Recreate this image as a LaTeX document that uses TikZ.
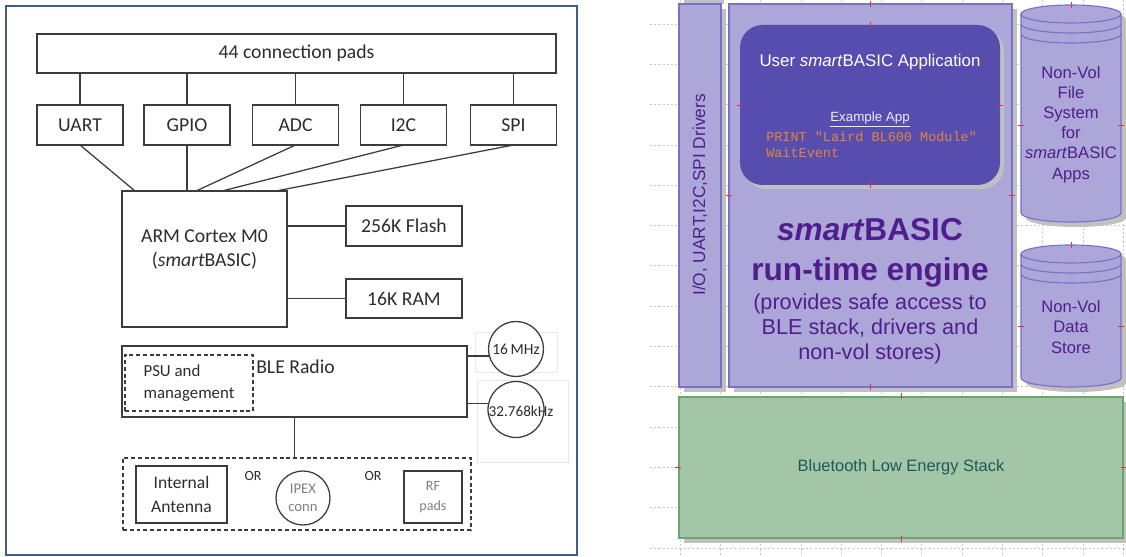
\documentclass[tikz,border=0pt]{standalone}
\usepackage{fontspec}
\setmainfont{Carlito}
\newfontfamily\arial{Liberation Sans}
\newfontfamily\courier{Liberation Mono}
\usepackage{tikz}
\usetikzlibrary{calc,positioning,shadows}

\definecolor{linegray}{RGB}{60,60,60}
\definecolor{textgray}{RGB}{45,45,45}
\definecolor{framblue}{RGB}{62,92,140}
\definecolor{lavfill}{RGB}{172,167,216}
\definecolor{lavline}{RGB}{122,112,202}
\definecolor{appblue}{RGB}{87,77,174}
\definecolor{purpletext}{RGB}{80,30,140}
\definecolor{codeorange}{RGB}{222,135,60}
\definecolor{greenfill}{RGB}{162,198,166}
\definecolor{greenline}{RGB}{105,165,110}
\definecolor{greentext}{RGB}{30,90,90}
\definecolor{shadowgray}{RGB}{192,192,192}
\definecolor{gridgray}{RGB}{200,200,200}
\definecolor{tickred}{RGB}{225,50,50}

\newcommand{\fsz}[2]{\fontsize{#1}{#2}\selectfont}

\begin{document}
\begin{tikzpicture}[x=0.025cm, y=-0.025cm,
    sz/.style 2 args={minimum width=#1*0.025cm, minimum height=#2*0.025cm},
    blk/.style={draw=linegray, line width=0.9pt, inner sep=0pt, outer sep=0pt,
                text=textgray, font=\fsz{14pt}{17pt}, align=center},
    dbox/.style={blk, dash pattern=on 2.8pt off 2pt},
    wire/.style={draw=linegray, line width=0.9pt},
    lav/.style={fill=lavfill, draw=lavline, line width=0.8pt, inner sep=0pt, outer sep=0pt},
    shd/.style={drop shadow={shadow xshift=0.125cm, shadow yshift=-0.125cm,
                fill=shadowgray, opacity=1}},
    gridln/.style={draw=gridgray, line width=0.5pt, dash pattern=on 1.5pt off 1.5pt},
    cpt/.style={draw=tickred, line width=0.7pt},
    purp/.style={text=purpletext, font=\arial\fsz{11.8pt}{14.3pt}, align=center}]

    \useasboundingbox (0,0) rectangle (1126,557);
    \fill[white] (0,0) rectangle (1126,557);

    % ---------- left: module block diagram ----------
    \draw[framblue, line width=1.5pt] (6,6) rectangle (577,555);

    \node[blk, sz={519}{39}] (pads) at (296.5,53.5) {44 connection pads};
    \node[blk, sz={86}{40}] (uart) at (80,125)    {UART};
    \node[blk, sz={86}{40}] (gpio) at (187,125)   {GPIO};
    \node[blk, sz={86}{40}] (adc)  at (295.5,125) {ADC};
    \node[blk, sz={86}{40}] (itc)  at (403.5,125) {I2C};
    \node[blk, sz={86}{40}] (spi)  at (513.5,125) {SPI};
    \foreach \p in {uart,gpio,adc,itc,spi}
        \draw[wire] (pads.south -| \p) -- (\p.north);

    \node[blk, sz={165}{136}] (arm) at (204.5,259) {};
    \node[text=textgray, font=\fsz{14pt}{17.7pt}, align=center] (armtxt) at (204.5,249.5)
        {ARM Cortex M0\\(\textit{smart}BASIC)};
    \draw[wire] (uart.south) -- ($(arm.north west)+(13,0)$);
    \draw[wire] (gpio.south) -- (gpio.south |- arm.north);
    \draw[wire] (adc.south)  -- ($(arm.north west)+(74,0)$);
    \draw[wire] (itc.south)  -- ($(arm.north west)+(100,0)$);
    \draw[wire] (spi.south)  -- ($(arm.north west)+(154,0)$);

    \node[blk, sz={116}{40}] (flash) at (404,226)   {256K Flash};
    \node[blk, sz={116}{39}] (ram)   at (404,298.5) {16K RAM};
    \draw[wire] (flash.west) -- (flash.west -| arm.east);
    \draw[wire] (ram.west)   -- (ram.west -| arm.east);

    % faint frames round the crystals
    \draw[gray!18] (475,332) rectangle (557,372);
    \draw[gray!18] (477,380) rectangle (568,462);

    \node[blk, sz={345}{71}] (ble) at (294.5,381.5) {};
    \node[text=textgray, font=\fsz{14pt}{17pt}, anchor=west, inner sep=0pt] (bletxt) at (256,367) {BLE Radio};
    \node[dbox, sz={128}{56}, align=left, font=\fsz{12pt}{15.6pt}] (psu) at (189,383) {PSU and\\management};

    \node[blk, circle, fill=white, minimum size=55*0.025cm, font=\fsz{11pt}{13pt}] (xtal16) at (516,349) {16\,MHz};
    \node[blk, circle, fill=white, minimum size=56*0.025cm] (xtal32) at (516,409.5) {};
    \node[text=textgray, font=\fsz{10.8pt}{13pt}, inner sep=0pt] (xtal32txt) at (521,411) {32.768kHz};
    \draw[wire] (xtal16.195) -- (xtal16.195 -| ble.east);
    \draw[wire] (xtal32.168) -- (xtal32.168 -| ble.east);

    \node[dbox, sz={348}{72}] (antbox) at (297,494) {};
    \draw[wire] (ble.south) -- (ble.south |- antbox.north);
    \node[blk, sz={91}{57}, font=\fsz{12.5pt}{17pt}] (ant) at (181.5,494.5) {Internal\\Antenna};
    \node[text=textgray, font=\fsz{10pt}{12pt}] (ora) at (253,476) {OR};
    \node[text=textgray, font=\fsz{10pt}{12pt}] (orb) at (373,476) {OR};
    \node[blk, circle, minimum size=54*0.025cm, text=gray, font=\fsz{10.5pt}{12.8pt}] (ipex) at (303,498) {IPEX\\conn};
    \node[blk, sz={58}{52}, text=gray, font=\fsz{10pt}{14pt}] (rf) at (433,497) {RF\\pads};

    % ---------- right: software layers ----------
    \foreach \k in {0,...,13}
        \draw[gridln] (650,{24+40.3*\k}) -- (1126,{24+40.3*\k});
    \foreach \k in {0,...,11}
        \draw[gridln] ({680+40.3*\k},0) -- ({680+40.3*\k},557);
    \fill[shadowgray] (684,0) rectangle (724,4);

    \node[lav, shd, sz={42}{383}] (io) at (700,195.5) {};
    \node[rotate=90, text=purpletext, font=\arial\fsz{12.3pt}{14pt}] (iotxt) at (700,195) {I/O, UART,I2C,SPI Drivers};

    \node[lav, shd, sz={283}{383}] (engine) at (870.5,195.5) {};
    \node[fill=appblue, rounded corners=16pt, sz={260}{160}, inner sep=0pt,
          drop shadow={shadow xshift=0.1cm, shadow yshift=-0.1cm, fill=shadowgray, opacity=1}] (app) at (870,105) {};
    \node[text=white, font=\arial\fsz{12pt}{14pt}] (apptxt) at (870,62) {User \textit{smart}BASIC Application};
    \node[text=white!90!appblue, font=\arial\fsz{9.5pt}{11pt}] (example) at (870,119) {\underline{Example App}};
    \node[anchor=west, inner sep=0pt, align=left, text=codeorange, font=\courier\fsz{9.6pt}{11.3pt}] (code) at (766,145)
        {PRINT "Laird BL600 Module"\\WaitEvent};
    \node[text=purpletext, font=\arial\bfseries\fsz{22.5pt}{28.3pt}, align=center] (engtxt) at (870,253)
        {\textit{smart}BASIC\\run-time engine};
    \node[text=purpletext, font=\arial\fsz{15.4pt}{17.7pt}, align=center] (engsub) at (870,329)
        {(provides safe access to\\BLE stack, drivers and\\non-vol stores)};

    % file system store
    \path[fill=lavfill, draw=lavline, line width=0.8pt,
          preaction={fill=shadowgray, transform canvas={shift={(0.125cm,-0.125cm)}}}]
        (1021,14) -- (1021,213) arc[start angle=180, end angle=360, x radius=1.25cm, y radius=0.225cm]
        -- (1121,14) arc[start angle=0, end angle=180, x radius=1.25cm, y radius=0.225cm] -- cycle;
    \draw[lavline, line width=0.8pt]
        (1021,14) arc[start angle=180, end angle=360, x radius=1.25cm, y radius=0.225cm]
        (1021,24) arc[start angle=180, end angle=360, x radius=1.25cm, y radius=0.225cm]
        (1021,34) arc[start angle=180, end angle=360, x radius=1.25cm, y radius=0.225cm];
    \node[purp] (files) at (1071,124.5) {Non-Vol\\File\\System\\for\\\textit{smart}BASIC\\Apps};

    % data store
    \path[fill=lavfill, draw=lavline, line width=0.8pt,
          preaction={fill=shadowgray, transform canvas={shift={(0.125cm,-0.125cm)}}}]
        (1021,254) -- (1021,378) arc[start angle=180, end angle=360, x radius=1.25cm, y radius=0.225cm]
        -- (1121,254) arc[start angle=0, end angle=180, x radius=1.25cm, y radius=0.225cm] -- cycle;
    \draw[lavline, line width=0.8pt]
        (1021,254) arc[start angle=180, end angle=360, x radius=1.25cm, y radius=0.225cm]
        (1021,264) arc[start angle=180, end angle=360, x radius=1.25cm, y radius=0.225cm]
        (1021,274) arc[start angle=180, end angle=360, x radius=1.25cm, y radius=0.225cm];
    \node[purp] (data) at (1071,327) {Non-Vol\\Data\\Store};

    \node[fill=greenfill, draw=greenline, line width=0.8pt, shd, sz={444}{141}, inner sep=0pt,
          text=greentext, font=\arial\fsz{11.7pt}{14pt}] (stack) at (901,467.5) {Bluetooth Low Energy Stack};

    % connection points
    \coordinate (fstop) at (1071,5);    \coordinate (dstop) at (1071,245);
    \coordinate (fsl) at (1021,125);    \coordinate (fsr) at (1121,125);
    \coordinate (dsl) at (1021,326);    \coordinate (dsr) at (1121,326);
    \foreach \p in {engine.north,engine.south,app.north,app.south,stack.north,stack.south,fstop,dstop}
        \draw[cpt] ($(\p)+(0,-3)$) -- ($(\p)+(0,3)$);
    \foreach \p in {engine.west,engine.east,app.west,app.east,stack.west,stack.east,fsl,fsr,dsl,dsr}
        \draw[cpt] ($(\p)+(-3,0)$) -- ($(\p)+(3,0)$);
\end{tikzpicture}
\end{document}
